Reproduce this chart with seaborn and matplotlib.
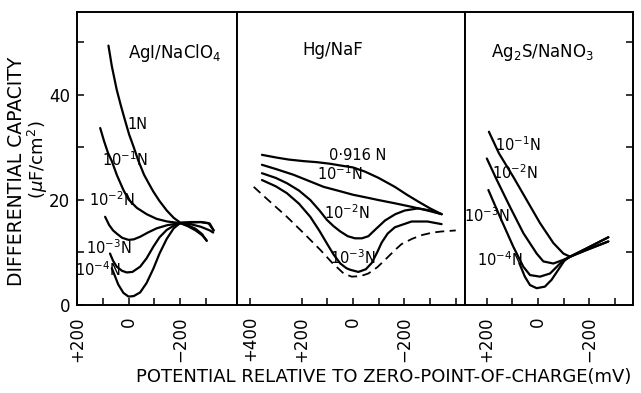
import numpy as np
import pandas as pd
import matplotlib
matplotlib.use("Agg")
import matplotlib.pyplot as plt
import seaborn as sns

# ---------------- data (potential in mV, capacity in uF/cm2) ----------------
# Panel 1: AgI / NaClO4
agi_1N_mv = [78, 65, 46, 30, 14, -2, -19, -37, -60, -80, -96, -120, -148, -175, -200, -240, -280, -310, -330]
agi_1N_c = [49.4, 45.5, 41.0, 38.0, 35.2, 32.5, 30.2, 27.6, 24.8, 23.0, 21.6, 19.8, 18.0, 16.6, 15.7, 15.7, 15.8, 15.6, 14.2]
agi_m1_mv = [110, 95, 80, 65, 45, 20, 0, -32, -70, -109, -150, -200, -240, -280, -315, -328]
agi_m1_c = [33.7, 31.2, 29.0, 27.4, 24.7, 21.9, 20.1, 18.5, 17.3, 16.4, 15.9, 15.6, 15.4, 14.9, 14.2, 13.8]
agi_m2_mv = [91, 75, 60, 46, 25, 0, -20, -45, -75, -109, -150, -200, -240, -280, -315, -330]
agi_m2_c = [16.8, 15.2, 14.2, 13.6, 12.8, 12.4, 12.5, 13.0, 13.8, 14.6, 15.2, 15.6, 15.8, 15.8, 15.5, 14.2]
agi_m3_mv = [72, 60, 46, 25, 7, -15, -45, -70, -96, -120, -148, -175, -200, -230, -260, -285, -303]
agi_m3_c = [9.8, 8.4, 7.3, 6.5, 6.2, 6.3, 7.3, 8.9, 11.1, 12.9, 14.3, 15.1, 15.6, 15.0, 14.2, 13.3, 12.3]
agi_m4_mv = [65, 52, 40, 20, 0, -20, -45, -70, -96, -120, -148, -175, -200, -230, -260, -285, -303]
agi_m4_c = [7.0, 5.4, 3.9, 2.3, 1.6, 1.7, 2.4, 4.2, 6.9, 9.8, 12.6, 14.6, 15.6, 15.2, 14.5, 13.5, 12.2]

# Panel 2: Hg / NaF
hg_0916_mv = [354, 300, 250, 192, 140, 89, 40, 0, -47, -100, -163, -210, -254, -300, -345]
hg_0916_c = [28.6, 28.1, 27.7, 27.4, 27.2, 26.9, 26.5, 26.2, 25.4, 24.2, 22.5, 21.0, 19.7, 18.4, 17.3]
hg_m1_mv = [354, 300, 231, 170, 114, 60, 0, -50, -98, -160, -228, -290, -345]
hg_m1_c = [26.7, 25.9, 24.8, 23.6, 22.5, 21.8, 21.0, 20.5, 20.0, 19.4, 18.7, 18.0, 17.3]
hg_m2_mv = [354, 300, 257, 210, 166, 130, 101, 75, 49, 20, -8, -35, -60, -90, -125, -165, -202, -254, -300, -345]
hg_m2_c = [25.1, 24.2, 23.2, 21.8, 20.0, 18.0, 16.2, 15.0, 14.0, 13.1, 12.7, 12.7, 13.1, 14.5, 16.1, 17.3, 18.0, 18.4, 18.0, 17.3]
hg_m3_mv = [354, 300, 257, 210, 166, 130, 101, 75, 49, 25, 10, -21, -50, -73, -95, -112, -135, -163, -228, -290, -345]
hg_m3_c = [23.8, 22.6, 21.3, 19.3, 16.8, 14.1, 11.7, 9.6, 7.9, 7.0, 6.7, 6.3, 6.8, 8.0, 10.1, 11.9, 13.6, 14.8, 15.9, 15.9, 15.4]
hg_dash_mv = [386, 330, 257, 190, 127, 80, 36, 5, -30, -60, -95, -125, -160, -189, -230, -267, -310, -345, -400]
hg_dash_c = [22.5, 20.0, 16.8, 13.6, 10.5, 8.0, 6.0, 5.4, 5.5, 6.0, 7.2, 8.6, 10.3, 11.6, 12.6, 13.3, 13.8, 14.0, 14.2]

# Panel 3: Ag2S / NaNO3
ags_m1_mv = [191, 152, 96, 44, -8, -60, -99, -125, -190, -274]
ags_m1_c = [33.0, 28.9, 24.4, 20.0, 15.6, 11.8, 9.8, 9.2, 10.8, 12.9]
ags_m2_mv = [199, 160, 109, 57, 5, -21, -60, -99, -125, -190, -274]
ags_m2_c = [27.9, 23.8, 18.7, 13.7, 9.8, 8.3, 7.9, 8.6, 9.2, 10.8, 12.9]
ags_m3_mv = [193, 148, 96, 57, 31, -8, -47, -86, -125, -190, -274]
ags_m3_c = [21.9, 16.8, 11.1, 7.3, 5.7, 5.4, 6.0, 7.9, 9.2, 10.5, 12.1]
ags_m4_mv = [72, 51, 31, 5, -27, -53, -79, -105, -125, -190, -274]
ags_m4_c = [7.9, 5.4, 3.8, 3.2, 3.5, 4.8, 6.7, 8.6, 9.2, 10.5, 12.1]

# tick labels
p1_ticks = [200, 100, 0, -100, -200, -300]
p1_labels = ["+200", "", "0", "", "\u2212200", ""]
p2_ticks = [400, 200, 100, 0, -100, -200, -300, -400]
p2_labels = ["+400", "+200", "", "0", "", "\u2212200", "", ""]
p3_ticks = [200, 100, 0, -100, -200, -300]
p3_labels = ["+200", "", "0", "", "\u2212200", ""]
y_ticks = [0, 10, 20, 30, 40, 50]
y_labels = ["0", "", "20", "", "40", ""]

# ---------------- figure ----------------
sns.set_style("white")
plt.rcParams['font.family'] = ['DejaVu Sans']
plt.rcParams['mathtext.fontset'] = 'dejavusans'
for k in ["text.color", "axes.labelcolor", "xtick.color", "ytick.color", "axes.edgecolor"]:
    plt.rcParams[k] = "black"

fig = plt.figure(figsize=(6.41, 3.93), dpi=100)
gs = fig.add_gridspec(1, 3, left=77/641, right=633/641, top=1-12/393, bottom=1-305/393,
                      wspace=0, width_ratios=[160, 228, 168])
axes = [fig.add_subplot(gs[0, i]) for i in range(3)]


def frame(mv_list, c_list, names):
    rows = []
    for n, xs, ys in zip(names, mv_list, c_list):
        for a, b in zip(xs, ys):
            rows.append((n, a, b))
    return pd.DataFrame(rows, columns=["series", "mV", "C"])


LW = 1.6
d1 = frame([agi_1N_mv, agi_m1_mv, agi_m2_mv, agi_m3_mv, agi_m4_mv],
           [agi_1N_c, agi_m1_c, agi_m2_c, agi_m3_c, agi_m4_c], ["1N", "m1", "m2", "m3", "m4"])
d2 = frame([hg_0916_mv, hg_m1_mv, hg_m2_mv, hg_m3_mv],
           [hg_0916_c, hg_m1_c, hg_m2_c, hg_m3_c], ["0916", "m1", "m2", "m3"])
d2d = frame([hg_dash_mv], [hg_dash_c], ["dash"])
d3 = frame([ags_m1_mv, ags_m2_mv, ags_m3_mv, ags_m4_mv],
           [ags_m1_c, ags_m2_c, ags_m3_c, ags_m4_c], ["m1", "m2", "m3", "m4"])

for ax, d in zip(axes, [d1, d2, d3]):
    sns.lineplot(data=d, x="mV", y="C", units="series", estimator=None, sort=False,
                 color="black", lw=LW, ax=ax, legend=False)
    for ln in ax.lines:
        ln.set_solid_joinstyle("round")
        ln.set_solid_capstyle("round")
sns.lineplot(data=d2d, x="mV", y="C", units="series", estimator=None, sort=False,
             color="black", lw=1.3, ax=axes[1], legend=False, dashes=False)
axes[1].lines[-1].set_dashes([5, 3])

xlims = [(200, -420.5), (451, -436), (284, -370)]
xt = [(p1_ticks, p1_labels), (p2_ticks, p2_labels), (p3_ticks, p3_labels)]
for ax, lim, (tk, lb) in zip(axes, xlims, xt):
    ax.set_xlim(*lim)
    ax.set_ylim(0, 55.8)
    ax.set_xlabel("")
    ax.set_ylabel("")
    ax.set_xticks(tk)
    ax.set_xticklabels(lb, rotation=90, fontsize=12)
    ax.tick_params(axis="x", direction="in", length=5, width=1.1, pad=8, bottom=True)
    for s in ax.spines.values():
        s.set_color("black")
        s.set_linewidth(1.4)
    ax.set_facecolor("white")

axes[0].set_yticks(y_ticks)
axes[0].set_yticklabels(y_labels, fontsize=12)
axes[0].tick_params(axis="y", direction="in", length=5, width=1.1, pad=5, left=True)
for ax in axes[1:]:
    ax.set_yticks([])
axes[2].yaxis.tick_right()
axes[2].set_yticks(y_ticks[1:])
axes[2].set_yticklabels([])
axes[2].tick_params(axis="y", direction="in", length=5, width=1.1, right=True, left=False)

# panel titles
axes[0].text(-180, 48.0, r"AgI/NaClO$_4$", ha="center", va="center", fontsize=12)
axes[1].text(78, 48.6, "Hg/NaF", ha="center", va="center", fontsize=12)
axes[2].text(-19, 48.0, r"Ag$_2$S/NaNO$_3$", ha="center", va="center", fontsize=12)

# curve labels
fs = 10.5
axes[0].text(-36, 34.4, "1N", ha="center", va="center", fontsize=fs)
axes[0].text(14, 27.6, r"$10^{-1}$N", ha="center", va="center", fontsize=fs)
axes[0].text(64, 20.0, r"$10^{-2}$N", ha="center", va="center", fontsize=fs)
axes[0].text(76, 11.0, r"$10^{-3}$N", ha="center", va="center", fontsize=fs)
axes[0].text(118, 6.7, r"$10^{-4}$N", ha="center", va="center", fontsize=fs)

axes[1].text(-19, 28.4, "0\u00b7916 N", ha="center", va="center", fontsize=fs)
axes[1].text(51, 25.1, r"$10^{-1}$N", ha="center", va="center", fontsize=fs)
axes[1].text(23, 17.5, r"$10^{-2}$N", ha="center", va="center", fontsize=fs)
axes[1].text(0, 9.1, r"$10^{-3}$N", ha="center", va="center", fontsize=fs)

axes[2].text(78, 30.5, r"$10^{-1}$N", ha="center", va="center", fontsize=fs)
axes[2].text(89, 25.3, r"$10^{-2}$N", ha="center", va="center", fontsize=fs)
axes[2].text(198, 17.1, r"$10^{-3}$N", ha="center", va="center", fontsize=fs)
axes[2].text(148, 8.6, r"$10^{-4}$N", ha="center", va="center", fontsize=fs)

# axis labels
fig.text(17/641, 1-171.5/393, "DIFFERENTIAL CAPACITY", rotation=90, ha="center", va="center", fontsize=13.5)
fig.text(38/641, 1-160/393, r"($\mu$F/cm$^2$)", rotation=90, ha="center", va="center", fontsize=13)
fig.text(384/641, 1-377/393, "POTENTIAL RELATIVE TO ZERO-POINT-OF-CHARGE(mV)",
         ha="center", va="center", fontsize=13)

fig.savefig("out.png", dpi=100, facecolor="white")
